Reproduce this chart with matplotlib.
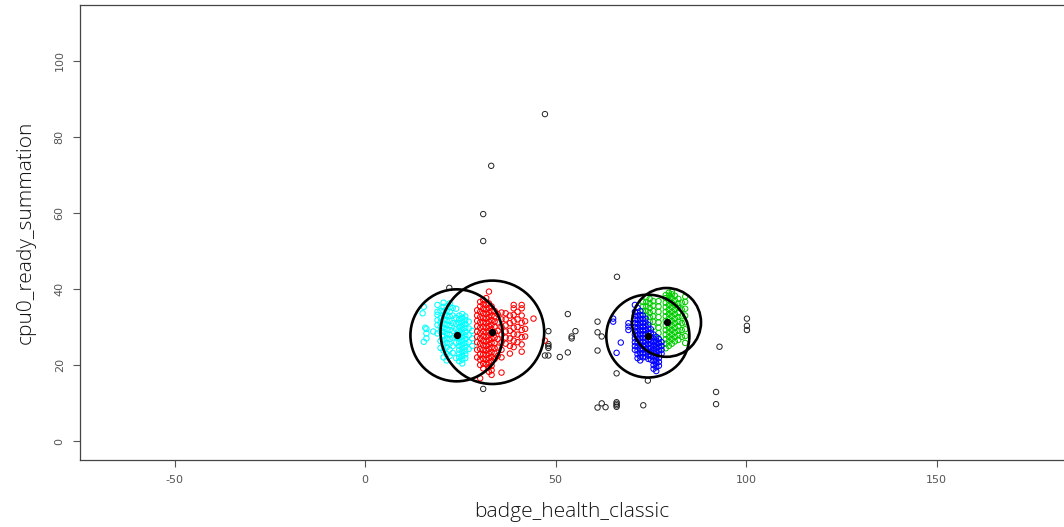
import matplotlib.pyplot as plt
from matplotlib.patches import Circle

# kmeans style clusters: each column is (x, [y values])
cyan_cols = [
    (15.1, [33.6]),
    (15.4, [26.1, 35.3]),
    (15.8, [29.8]),
    (16.1, [27.0, 28.3, 29.5]),
    (17.9, [28.8]),
    (19.0, [28.3, 30.5, 31.8, 33.2, 34.0, 35.8]),
    (19.8, [24.5, 26.3, 28.8, 30.0, 31.2, 32.4, 34.2]),
    (20.6, [22.0, 23.8, 25.2, 26.6, 27.6, 28.7, 29.8, 30.9, 32.0, 33.1, 34.2, 35.3, 36.4]),
    (21.4, [21.2, 22.8, 24.6, 25.8, 27.0, 28.2, 29.4, 30.6, 31.8, 33.0, 34.2, 35.4]),
    (22.2, [22.4, 24.0, 25.6, 26.8, 28.0, 29.2, 30.4, 31.6, 32.8, 34.0, 35.2, 36.2]),
    (23.0, [23.2, 25.0, 27.2, 29.0, 31.0, 33.0, 35.0]),
    (23.9, [21.8, 25.8, 27.4, 29.4, 30.8, 32.4, 34.8]),
    (24.7, [21.0, 22.0, 23.0, 24.0, 25.0, 26.0, 27.0, 28.0, 29.0, 30.0, 31.0, 32.0, 33.0]),
    (25.5, [20.4, 21.4, 22.4, 23.4, 24.4, 25.4, 26.4, 27.4, 28.4, 29.4, 30.4, 31.4, 32.4, 33.4]),
    (26.3, [21.8, 22.8, 23.8, 24.8, 25.8, 26.8, 27.8, 28.8, 29.8, 30.8, 31.8, 32.8]),
    (27.2, [24.2, 26.0, 27.8, 29.6, 31.4]),
    (28.1, [25.0, 27.0, 29.0]),
]

red_cols = [
    (29.4, [22.0, 24.0, 26.0, 27.4, 28.8, 30.2, 31.6, 33.0, 34.4]),
    (30.2, [16.5, 20.0, 21.4, 22.8, 24.2, 25.6, 27.0, 28.4, 29.8, 31.2, 32.6, 34.0, 35.4, 36.6]),
    (31.0, [19.1, 20.4, 21.6, 22.8, 24.0, 25.2, 26.4, 27.6, 28.8, 30.0, 31.2, 32.4, 33.6, 34.8, 36.0, 37.1]),
    (31.8, [20.2, 21.4, 22.6, 23.8, 25.0, 26.2, 27.4, 28.6, 29.8, 31.0, 32.2, 33.4, 34.6, 35.8, 37.6]),
    (32.5, [18.2, 19.4, 20.6, 21.8, 23.0, 24.2, 25.4, 26.6, 27.8, 29.0, 30.2, 31.4, 32.6, 33.8, 35.0, 36.2, 39.3]),
    (33.2, [17.4, 18.6, 19.8, 21.0, 22.2, 23.4, 24.6, 25.8, 27.0, 28.2, 29.4, 30.6, 31.8, 33.0, 34.2, 35.4]),
    (34.0, [21.6, 23.0, 24.4, 25.8, 27.2, 28.6, 30.0, 31.4, 32.8, 34.2]),
    (34.8, [22.4, 24.6, 26.8, 29.0, 31.2, 33.4]),
    (35.8, [18.0, 22.0, 24.0, 26.0, 28.0, 30.0, 32.0, 33.8]),
    (36.9, [25.6, 27.2, 28.8, 30.4, 32.0, 33.6]),
    (38.0, [23.0, 25.0, 27.0, 29.0, 31.0, 33.0]),
    (39.0, [24.7, 26.4, 28.1, 29.8, 31.5, 33.2, 34.9, 35.8]),
    (40.0, [26.0, 28.0, 30.0, 32.0, 34.0]),
    (41.1, [23.5, 25.4, 27.3, 29.2, 31.1, 33.0, 34.9, 35.8]),
    (42.0, [27.5, 29.5, 31.5]),
    (44.2, [32.2]),
    (47.2, [26.4]),
]

blue_cols = [
    (65.1, [31.4, 32.2]),
    (66.0, [23.2]),
    (67.1, [25.9]),
    (69.1, [29.2, 30.1, 31.0]),
    (70.8, [24.0, 25.0, 26.0, 27.0, 28.0, 29.0, 30.0, 31.0, 32.0, 33.0, 34.0, 35.8]),
    (71.5, [21.8, 22.8, 23.8, 24.8, 25.8, 26.8, 27.8, 28.8, 29.8, 30.8, 31.8, 32.8, 33.8, 35.0]),
    (72.2, [21.2, 22.2, 23.2, 24.2, 25.2, 26.2, 27.2, 28.2, 29.2, 30.2, 31.2, 32.2, 33.2, 34.2]),
    (72.9, [22.0, 23.0, 24.0, 25.0, 26.0, 27.0, 28.0, 29.0, 30.0, 31.0, 32.0, 33.0]),
    (73.6, [22.2, 23.2, 24.2, 25.2, 26.2, 27.2, 28.2, 29.2, 30.2, 31.2, 32.2]),
    (74.3, [21.6, 22.6, 23.6, 24.6, 25.6, 26.6, 27.6, 28.6, 29.6, 30.6]),
    (75.0, [21.4, 22.4, 23.4, 24.4, 25.4, 26.4, 27.4, 28.4, 29.4]),
    (75.7, [19.0, 20.0, 21.0, 22.0, 23.0, 24.0, 25.0, 26.0, 27.0, 28.0]),
    (76.4, [18.4, 19.4, 20.4, 21.4, 22.4, 23.4, 24.4, 25.4, 26.4, 27.4]),
    (77.1, [19.8, 20.8, 21.8, 22.8, 23.8, 24.8, 25.8, 26.8]),
    (77.8, [23.0, 24.0, 25.0, 26.0]),
]

green_cols = [
    (72.9, [34.2, 35.4, 36.6]),
    (73.8, [33.0, 34.2, 35.4, 36.6, 37.8]),
    (74.7, [31.4, 32.6, 33.8, 35.0, 36.2, 37.4]),
    (75.6, [30.0, 31.4, 32.8, 34.2, 35.6, 36.8]),
    (77.0, [25.6, 27.0, 28.4, 29.8, 31.2, 32.6, 34.0, 35.4, 36.8]),
    (78.9, [24.4, 25.6, 26.8, 28.0, 29.2, 30.4, 31.6, 32.8, 34.0, 35.2, 36.4, 37.6, 38.4]),
    (79.7, [25.0, 26.2, 27.4, 28.6, 29.8, 31.0, 32.2, 33.4, 34.6, 35.8, 37.0, 38.2, 39.0]),
    (80.5, [25.6, 26.8, 28.0, 29.2, 30.4, 31.6, 32.8, 34.0, 35.2, 36.4, 37.6, 38.6, 39.3]),
    (81.3, [26.2, 27.4, 28.6, 29.8, 31.0, 32.2, 33.4, 34.6, 35.8, 37.0, 38.2]),
    (82.2, [26.6, 27.8, 29.0, 30.2, 31.4, 32.6, 33.8, 35.0, 36.2, 37.4]),
    (83.1, [27.4, 29.2, 31.0, 32.8, 34.6, 36.4]),
    (84.0, [25.8, 27.6, 29.4, 31.2, 33.0, 34.8, 36.6, 38.0]),
]

# points not assigned to any cluster
noise_x = [47.2, 33.1, 31.0, 31.0, 22.1, 31.0, 53.2, 48.1, 55.2, 54.2, 54.2,
           48.1, 48.1, 48.1, 47.2, 48.1, 51.1, 53.2, 61.0, 61.0, 62.1, 61.0,
           66.0, 66.1, 61.0, 62.1, 63.1, 66.0, 66.0, 66.0, 66.0, 73.0, 74.2,
           93.0, 100.2, 100.2, 100.2, 92.1, 92.1]
noise_y = [86.0, 72.4, 59.7, 52.6, 40.3, 13.7, 33.4, 28.9, 28.9, 27.0, 27.5,
           24.5, 25.0, 25.5, 22.5, 22.5, 22.1, 23.3, 31.4, 28.6, 27.5, 23.8,
           17.8, 43.2, 8.8, 9.9, 8.9, 9.0, 9.4, 9.8, 10.2, 9.4, 15.9,
           24.8, 32.2, 30.3, 29.2, 12.9, 9.7]

# cluster centres and radii
center_x = [24.0, 33.4, 74.2, 79.1]
center_y = [27.8, 28.6, 27.6, 31.2]
radius = [12.1, 13.6, 10.9, 9.05]

x_ticks = [-50, 0, 50, 100, 150]
y_ticks = [0, 20, 40, 60, 80, 100]


def unpack(cols):
    xs = []
    ys = []
    for x, col in cols:
        for y in col:
            xs.append(x)
            ys.append(y)
    return xs, ys


fig = plt.figure(figsize=(10.64, 5.27), dpi=100)
ax = fig.add_axes([0.0752, 0.1271, 0.9248, 0.8634])

ax.scatter(noise_x, noise_y, s=15, facecolors='none', edgecolors='#222222', linewidths=0.7)
for cols, color in [(cyan_cols, '#00ffff'), (red_cols, '#ff0000'),
                    (green_cols, '#00cd00'), (blue_cols, '#0000ff')]:
    xs, ys = unpack(cols)
    ax.scatter(xs, ys, s=15, facecolors='none', edgecolors=color, linewidths=0.75)

for cx, cy, r in zip(center_x, center_y, radius):
    ax.add_patch(Circle((cx, cy), r, fill=False, edgecolor='black', linewidth=1.9))
ax.scatter(center_x, center_y, s=18, color='black', zorder=5)

ax.set_xlim(-74.8, 183.4)
ax.set_ylim(-5.0, 114.7)
ax.set_xticks(x_ticks)
ax.set_yticks(y_ticks)

tick_font = {'family': ['Liberation Sans Narrow', 'DejaVu Sans'], 'size': 8}
ax.set_xticklabels([str(t) for t in x_ticks], fontdict=tick_font, color='#555555')
ax.set_yticklabels([str(t) for t in y_ticks], fontdict=tick_font, color='#555555',
                   rotation=90, va='center')
ax.tick_params(direction='out', length=5, width=0.8, color='#555555', pad=6)

for side in ['left', 'bottom', 'top']:
    ax.spines[side].set_color('#444444')
    ax.spines[side].set_linewidth(0.9)
ax.spines['right'].set_visible(False)

label_font = {'family': ['Open Sans', 'DejaVu Sans'], 'size': 15, 'weight': 'light'}
ax.set_xlabel('badge_health_classic', fontdict=label_font, color='#111111', labelpad=12)
ax.set_ylabel('cpu0_ready_summation', fontdict=label_font, color='#111111', labelpad=14)

fig.savefig('out.png', dpi=100)
